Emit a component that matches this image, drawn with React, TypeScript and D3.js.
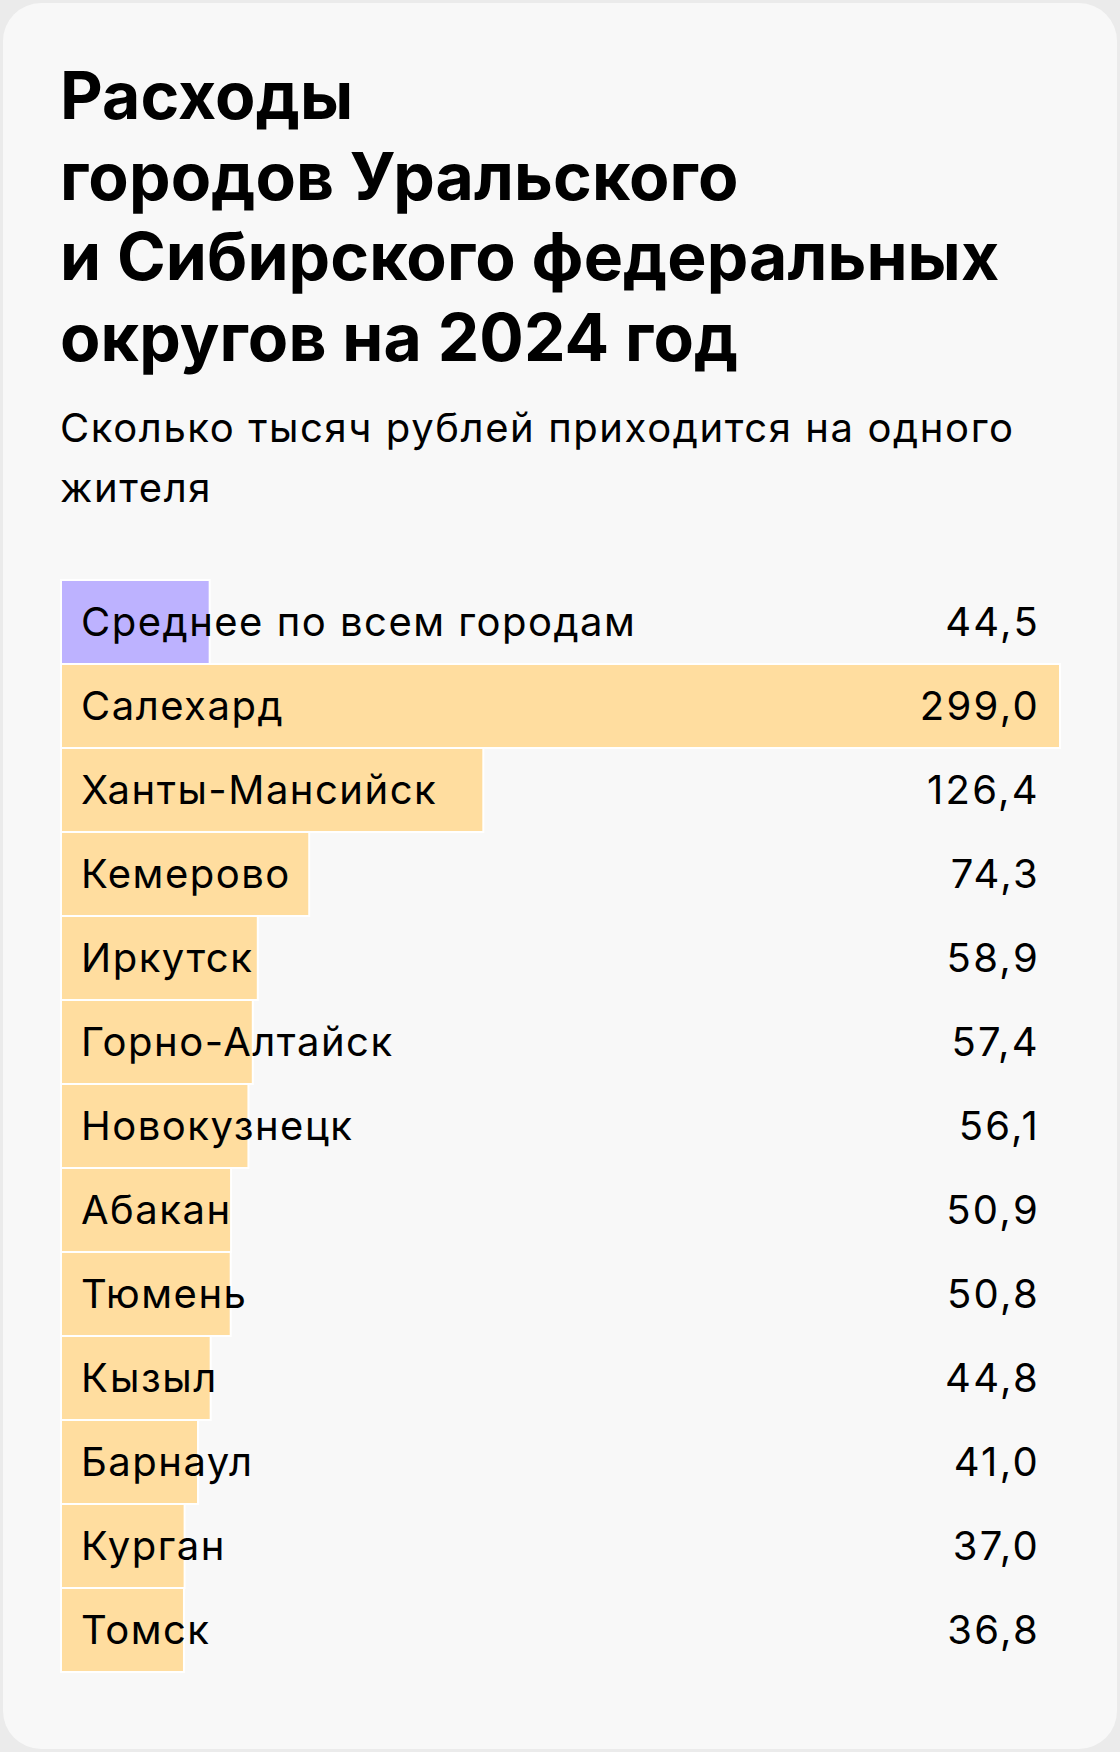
import React from "react";
import * as d3 from "d3";

const titleLines = ["Расходы", "городов Уральского", "и Сибирского федеральных", "округов на 2024 год"];
const subtitleLines = ["Сколько тысяч рублей приходится на одного", "жителя"];
const cities = [
  "Среднее по всем городам",
  "Салехард",
  "Ханты-Мансийск",
  "Кемерово",
  "Иркутск",
  "Горно-Алтайск",
  "Новокузнецк",
  "Абакан",
  "Тюмень",
  "Кызыл",
  "Барнаул",
  "Курган",
  "Томск",
];
const values = [44.5, 299.0, 126.4, 74.3, 58.9, 57.4, 56.1, 50.9, 50.8, 44.8, 41.0, 37.0, 36.8];
const highlight = [true, false, false, false, false, false, false, false, false, false, false, false, false];

const W = 1120;
const H = 1752;
const FONT = "Inter, 'Noto Sans', sans-serif";

export default function App() {
  const left = 61;
  const top = 580;
  const x = d3.scaleLinear().domain([0, d3.max(values) as number]).range([0, 999]);
  const y = d3.scaleBand<number>().domain(d3.range(cities.length)).range([top, top + cities.length * 84]).paddingInner(0);
  const fmt = (v: number) => d3.format(".1f")(v).replace(".", ",");

  return (
    <div style={{ position: "absolute", left: 0, top: 0 }}>
      <svg width={W} height={H} style={{ display: "block" }}>
        <rect x={0} y={0} width={W} height={H} fill="#ebebeb" />
        <rect x={3} y={3} width={W - 6} height={H - 6} rx={38} fill="#f8f8f8" />
        <g fontFamily={FONT} fontWeight={700} fontSize={66} fill="#000">
          {titleLines.map((t, i) => (
            <text key={i} x={60} y={119} dy={i * 80.5} letterSpacing={0.1}>
              {t}
            </text>
          ))}
        </g>
        <g fontFamily={FONT} fontSize={40} fill="#000">
          {subtitleLines.map((t, i) => (
            <text key={i} x={60} y={442 + i * 60} letterSpacing={1.6}>
              {t}
            </text>
          ))}
        </g>
        <g>
          {values.map((v, i) => (
            <rect
              key={i}
              x={left}
              y={y(i) as number}
              width={x(v)}
              height={y.bandwidth()}
              fill={highlight[i] ? "#bdb2ff" : "#ffdd9f"}
              stroke="#ffffff"
              strokeWidth={2}
            />
          ))}
        </g>
        <g fontFamily={FONT} fontSize={40} fill="#000">
          {cities.map((c, i) => (
            <text key={i} x={81} y={(y(i) as number) + y.bandwidth() / 2 + 14} letterSpacing={1.5}>
              {c}
            </text>
          ))}
          {values.map((v, i) => (
            <text
              key={i}
              x={1040}
              y={(y(i) as number) + y.bandwidth() / 2 + 14}
              textAnchor="end"
              letterSpacing={2.3}
            >
              {fmt(v)}
            </text>
          ))}
        </g>
      </svg>
    </div>
  );
}
